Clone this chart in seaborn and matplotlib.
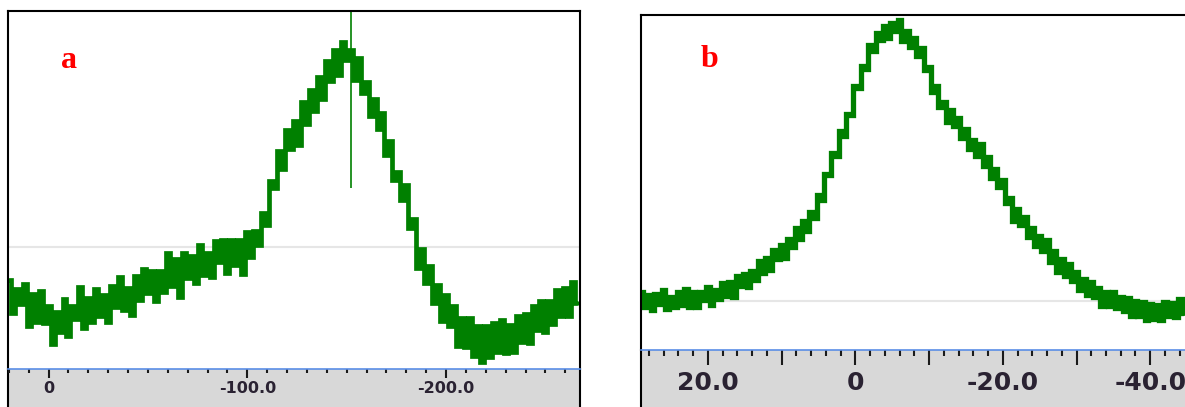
import numpy as np
import pandas as pd
import matplotlib
matplotlib.use("Agg")
import matplotlib.pyplot as plt
import seaborn as sns
from matplotlib.ticker import MultipleLocator

sns.set_style("white")
plt.rcParams["font.family"] = ["DejaVu Sans"]
plt.rcParams["axes.unicode_minus"] = False

# --- panel a: shift axis, one reading every 2 units from 20 down to -266
a_start, a_step = 20.0, -2.0
a_counts = [25.0, 15.8, 22.5, 18.1, 23.9, 12.1, 21.1, 13.2, 21.9, 13.0,
            17.7, 7.0, 15.9, 10.5, 19.6, 9.4, 17.7, 14.0, 23.1, 11.5,
            20.0, 13.2, 22.4, 14.8, 20.8, 13.3, 23.3, 17.3, 25.7, 16.6,
            22.7, 15.2, 26.1, 19.4, 28.0, 21.3, 27.4, 19.0, 27.5, 21.5,
            32.4, 23.3, 30.9, 20.1, 32.5, 25.6, 31.6, 24.0, 34.8, 26.4,
            32.5, 25.8, 35.8, 29.9, 36.0, 26.8, 36.0, 29.2, 36.0, 26.7,
            38.2, 31.3, 38.7, 34.8, 43.5, 40.3, 52.6, 50.5, 61.0, 55.8,
            66.7, 61.6, 69.2, 62.7, 74.7, 68.4, 77.9, 72.1, 81.5, 75.4,
            86.0, 80.4, 89.0, 82.2, 91.4, 86.4, 89.2, 80.7, 87.0, 77.2,
            80.2, 70.6, 75.5, 67.0, 71.5, 59.9, 63.7, 52.8, 55.0, 47.2,
            51.4, 39.5, 41.9, 28.2, 33.6, 24.0, 28.8, 18.6, 23.6, 13.6,
            20.8, 12.0, 17.7, 6.4, 14.2, 6.3, 14.4, 3.6, 12.0, 2.1,
            12.2, 3.3, 12.9, 4.9, 13.8, 4.6, 12.3, 4.8, 14.9, 7.5,
            15.4, 7.3, 17.6, 11.1, 19.1, 10.3, 19.0, 12.6, 22.2, 14.9,
            22.8, 14.8, 24.3, 18.6]
a_marker_x = -152.0
a_marker_lo, a_marker_hi = 50.6, 100.0
a_grid_y = 34.2
a_major = [0, -100, -200]
a_labels = ["0", "-100.0", "-200.0"]

# --- panel b: one reading every 0.5 units from 29 down to -44.5
b_start, b_step = 29.0, -0.5
b_counts = [17.2, 12.7, 16.2, 11.7, 16.7, 13.7, 17.7, 12.2, 15.7, 12.7,
            17.2, 13.2, 18.2, 12.8, 17.1, 12.8, 17.1, 14.8, 18.6, 13.4,
            17.7, 15.0, 19.8, 16.1, 20.2, 15.8, 21.9, 19.0, 22.6, 18.8,
            23.5, 20.8, 26.5, 22.8, 27.3, 23.7, 29.7, 27.2, 31.2, 27.4,
            33.0, 30.7, 36.3, 33.0, 38.5, 35.5, 41.0, 39.3, 46.3, 44.8,
            52.5, 52.1, 58.8, 57.9, 65.4, 63.9, 70.4, 70.2, 78.7, 78.2,
            84.7, 84.0, 91.0, 89.2, 94.6, 92.5, 96.8, 93.2, 97.7, 95.3,
            98.4, 92.2, 95.2, 90.4, 93.1, 87.8, 90.0, 83.5, 84.4, 76.9,
            78.9, 72.5, 74.0, 68.1, 71.6, 66.7, 69.3, 63.3, 65.9, 60.0,
            62.7, 57.8, 61.4, 54.9, 57.4, 51.4, 53.9, 48.6, 50.7, 43.8,
            45.4, 38.4, 42.0, 37.1, 39.6, 33.7, 36.4, 30.8, 34.0, 29.3,
            32.6, 26.3, 29.3, 23.2, 27.2, 22.1, 25.5, 20.6, 23.1, 17.7,
            21.2, 16.3, 20.2, 15.6, 18.5, 12.9, 17.3, 13.0, 17.3, 12.5,
            15.8, 11.5, 15.5, 10.0, 14.6, 10.1, 14.2, 8.7, 13.7, 9.2,
            13.2, 8.7, 14.3, 9.9, 14.0, 9.6, 15.2, 10.8]
b_grid_y = 14.6
b_major = [20, 0, -20, -40]
b_labels = ["20.0", "0", "-20.0", "-40.0"]

df_a = pd.DataFrame({"shift": a_start + a_step * np.arange(len(a_counts)),
                     "counts": a_counts})
df_b = pd.DataFrame({"shift": b_start + b_step * np.arange(len(b_counts)),
                     "counts": b_counts})

GREEN = "#008000"
BLUE = "#5a8ee6"
BAND = "#d8d8d8"
W, H = 1185, 407
fig = plt.figure(figsize=(W / 100, H / 100), dpi=100)


def box(l, t, r, b):
    return [l / W, 1 - b / H, (r - l) / W, (b - t) / H]


def panel(data_box, band_box, xlim, df, grid_y, major, labels, minor,
          maj_len, min_len, fsize, pad, lw):
    band = fig.add_axes(band_box)
    band.set_facecolor(BAND)
    band.set_xticks([])
    band.set_yticks([])
    for s in ["top", "bottom"]:
        band.spines[s].set_visible(False)
    for s in ["left", "right"]:
        band.spines[s].set_color("black")
        band.spines[s].set_linewidth(1.5)

    ax = fig.add_axes(data_box)
    ax.set_facecolor("white")
    ax.axhline(grid_y, color="#e6e6e6", lw=1.5, zorder=0)
    sns.lineplot(data=df, x="shift", y="counts", ax=ax, color=GREEN,
                 linewidth=lw, drawstyle="steps-mid", estimator=None,
                 errorbar=None, legend=False, solid_joinstyle="miter")
    ax.set_xlim(*xlim)
    ax.set_ylim(0, 100)
    ax.set_yticks([])
    ax.set_xlabel("")
    ax.set_ylabel("")
    ax.xaxis.set_major_locator(MultipleLocator(major))
    lookup = dict(zip(labels[0], labels[1]))
    ticks = ax.get_xticks()
    ax.set_xticks(ticks, [lookup.get(int(round(t)), "") for t in ticks],
                  fontweight="bold")
    ax.xaxis.set_minor_locator(MultipleLocator(minor))
    ax.tick_params(axis="x", which="major", direction="out", length=maj_len,
                   width=1.5, color="#1a1a1a", pad=pad, labelsize=fsize,
                   labelcolor="#2a2232", bottom=True)
    ax.tick_params(axis="x", which="minor", direction="out", length=min_len,
                   width=1.5, color="#1a1a1a", bottom=True)
    ax.set_xlim(*xlim)
    for s in ["left", "right", "top"]:
        ax.spines[s].set_color("black")
        ax.spines[s].set_linewidth(1.5)
    ax.spines["bottom"].set_color(BLUE)
    ax.spines["bottom"].set_linewidth(1.2)
    return ax


ax_a = panel(box(8, 11, 580, 369.3), box(8, 369.3, 580, 440),
             (20.43, -267.4), df_a, a_grid_y, 100, (a_major, a_labels), 10,
             6.5, 3, 11.5, 2, 3.4)
ax_a.vlines(a_marker_x, a_marker_lo, a_marker_hi, color=GREEN, lw=1.2)

ax_b = panel(box(641, 15, 1200, 349.5), box(641, 349.5, 1200, 440),
             (29.07, -46.75), df_b, b_grid_y, 10, (b_major, b_labels), 2,
             11, 4.5, 18, 4.5, 3.8)

fig.text(60.7 / W, 1 - 68 / H, "a", color="red", fontsize=23,
         fontweight="bold", family="Liberation Serif", va="baseline")
fig.text(700.5 / W, 1 - 67 / H, "b", color="red", fontsize=23,
         fontweight="bold", family="Liberation Serif", va="baseline")

fig.savefig("out.png", dpi=100)
